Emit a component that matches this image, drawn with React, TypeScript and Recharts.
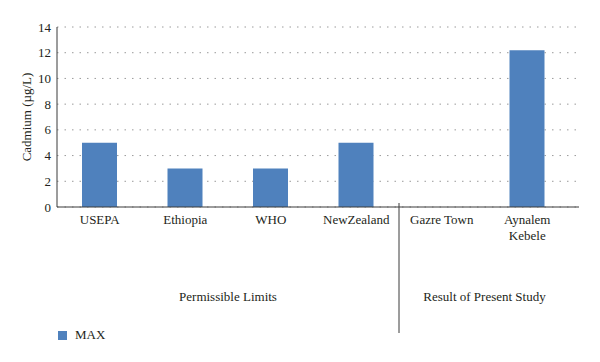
import React from "react";
import { BarChart, Bar, XAxis, YAxis, CartesianGrid, Legend } from "recharts";

const categories = ["USEPA", "Ethiopia", "WHO", "NewZealand", "Gazre Town", "Aynalem Kebele"];
const maxValues = [5, 3, 3, 5, 0, 12.2];
const yTicks = [0, 2, 4, 6, 8, 10, 12, 14];
const groups = [
  { label: "Permissible Limits", first: 0, last: 3 },
  { label: "Result of Present Study", first: 4, last: 5 },
];

const W = 600;
const H = 362;
const MARGIN = { top: 27, right: 21, left: 0, bottom: 18 };
const Y_WIDTH = 57;
const X_PAD_RIGHT = 9;
const BAND = (W - MARGIN.left - MARGIN.right - Y_WIDTH - X_PAD_RIGHT) / categories.length;

const FONT = "'Liberation Serif', 'DejaVu Serif', serif";
const TEXT = "#231f20";
const AXIS = "#3a3a3a";
const BLUE = "#4f81bd";
const textStyle = { fontFamily: FONT, fontSize: 13, fill: TEXT };

const data = categories.map((name, i) => ({ name, max: maxValues[i] }));

const CategoryTick = (props: any) => {
  const { x, y, payload, index } = props;
  const label: string = payload.value;
  const lines = label.length > 11 ? label.split(" ") : [label];
  const group = groups.find((g) => g.first === index);
  const isSplit = groups.some((g) => g.first === index && index > 0);
  return (
    <g>
      <text x={x} y={y} textAnchor="middle" style={textStyle}>
        {lines.map((l, i) => (
          <tspan key={i} x={x} dy={i === 0 ? 17 : 16}>
            {l}
          </tspan>
        ))}
      </text>
      {group && (
        <text x={x + ((group.last - group.first) / 2) * BAND} y={y + 94} textAnchor="middle" style={textStyle}>
          {group.label}
        </text>
      )}
      {isSplit && (
        <line x1={x - BAND / 2} x2={x - BAND / 2} y1={y - 4} y2={y + 126} stroke={AXIS} strokeWidth={1} />
      )}
    </g>
  );
};

const LegendBox = () => (
  <div style={{ display: "flex", alignItems: "center", paddingLeft: 58, height: 18, fontFamily: FONT, fontSize: 13, color: TEXT }}>
    <span style={{ display: "inline-block", width: 9, height: 9, background: BLUE, marginRight: 8 }} />
    <span>MAX</span>
  </div>
);

export default function App() {
  return (
    <div style={{ position: "absolute", left: 0, top: 0, width: W, height: H, background: "#fff" }}>
      <BarChart width={W} height={H} data={data} margin={MARGIN} barSize={35}>
        <CartesianGrid vertical={false} stroke="#9a9a9a" strokeDasharray="1.5 6" />
        <XAxis
          dataKey="name"
          height={119}
          padding={{ left: 0, right: X_PAD_RIGHT }}
          axisLine={{ stroke: AXIS }}
          tickLine={false}
          tickSize={0}
          tickMargin={0}
          interval={0}
          tick={<CategoryTick />}
        />
        <YAxis
          width={Y_WIDTH}
          domain={[0, 14]}
          ticks={yTicks}
          axisLine={{ stroke: AXIS }}
          tickLine={false}
          tickSize={0}
          tickMargin={6}
          tick={{ style: textStyle }}
          label={{
            value: "Cadmium (µg/L)",
            angle: -90,
            position: "insideLeft",
            offset: 26,
            style: { ...textStyle, textAnchor: "middle" },
          }}
        />
        <Legend verticalAlign="bottom" align="left" height={18} content={<LegendBox />} />
        <Bar dataKey="max" name="MAX" fill={BLUE} isAnimationActive={false} />
      </BarChart>
    </div>
  );
}
